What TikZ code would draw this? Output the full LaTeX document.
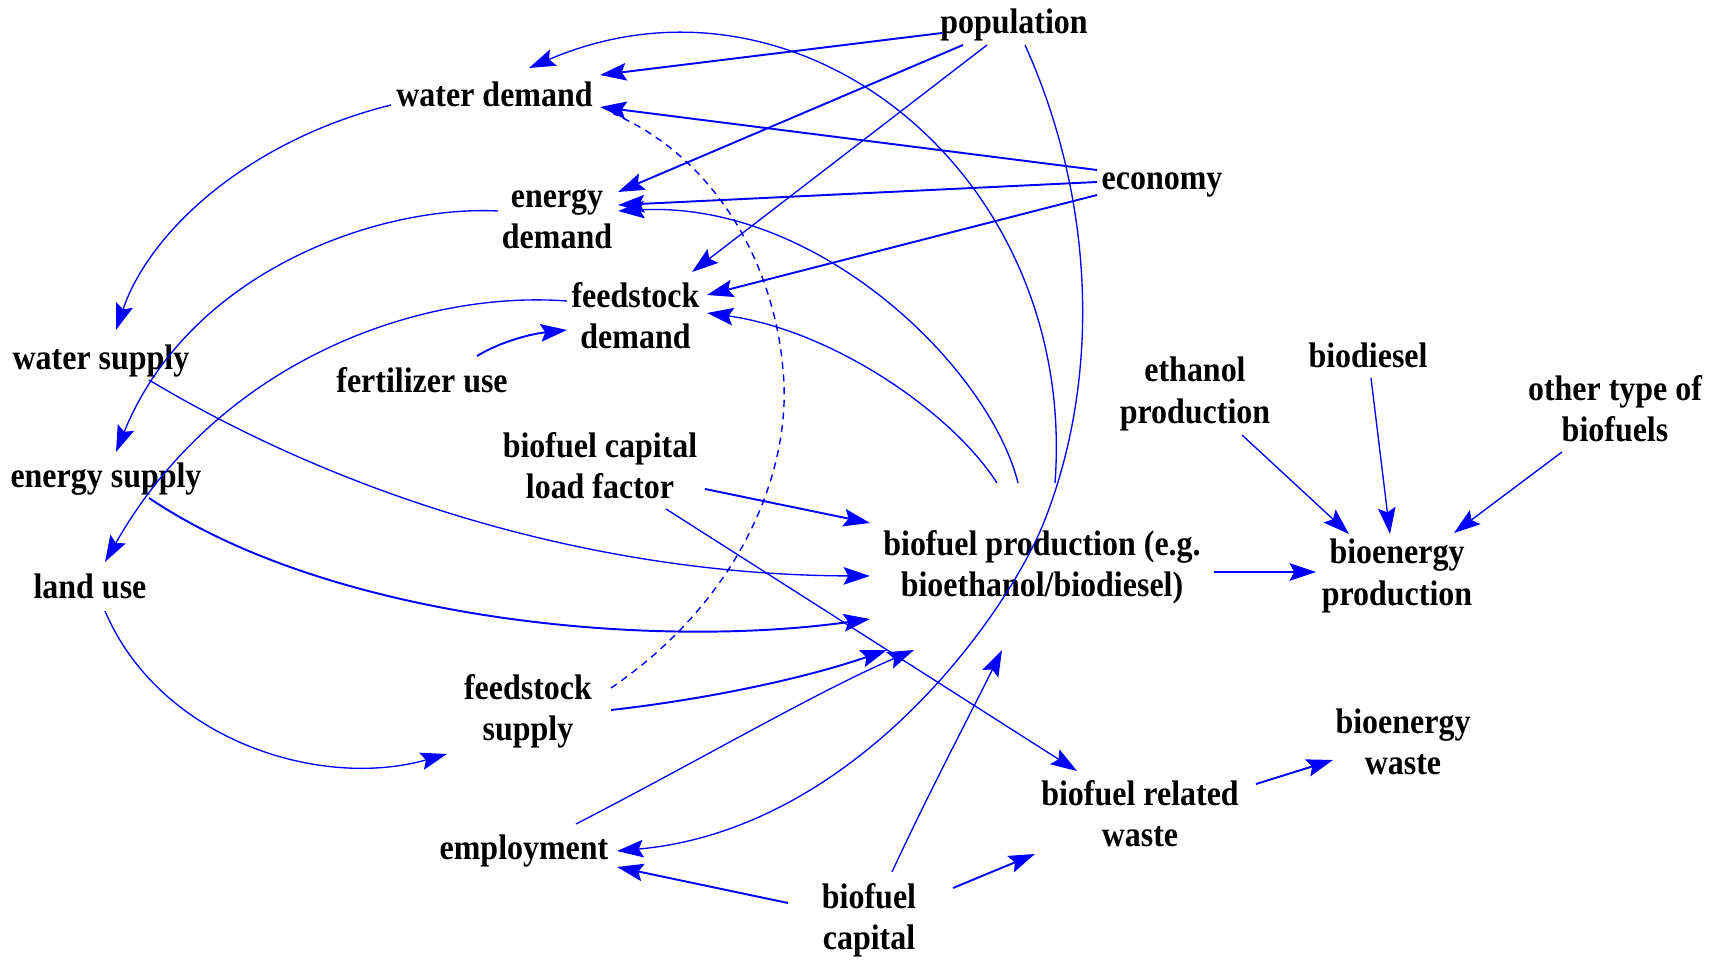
\documentclass[tikz,border=0pt]{standalone}
\usepackage{fontspec}
\setmainfont{Liberation Serif}[FakeStretch=0.9]
\usetikzlibrary{arrows.meta}
\definecolor{cblue}{RGB}{0,0,255}
\begin{document}
\begin{tikzpicture}[x=0.01cm,y=-0.01cm,
  lbl/.style={font=\fontsize{10.1}{11.7}\selectfont\bfseries, align=center, inner sep=0pt},
  link/.style={draw=cblue, line width=0.55pt, -{Stealth[length=7.5pt,width=5pt,inset=1.3pt]}},
  slim/.style={line width=0.38pt},
  dashlink/.style={draw=cblue, line width=0.4pt, dash pattern=on 2pt off 1.6pt}]
\useasboundingbox[fill=white] (0,0) rectangle (1727,961);

\node[lbl] (pop) at (1014,25) {population};
\node[lbl] (wd) at (494.5,94) {water demand};
\node[lbl] (eco) at (1162,185) {economy};
\node[lbl] (ed) at (557,219) {energy\\demand};
\node[lbl] (fd) at (635.5,316) {feedstock\\demand};
\node[lbl] (ws) at (101,361) {water supply};
\node[lbl] (fu) at (422,380) {fertilizer use};
\node[lbl] (eth) at (1195,394) {ethanol\\production};
\node[lbl] (bd) at (1368,355) {biodiesel};
\node[lbl] (oth) at (1615,409) {other type of\\biofuels};
\node[lbl] (lf) at (600,466) {biofuel capital\\load factor};
\node[lbl] (es) at (106,479) {energy supply};
\node[lbl] (bp) at (1042,567) {biofuel production (e.g.\\bioethanol/biodiesel)};
\node[lbl] (bep) at (1397,576) {bioenergy\\production};
\node[lbl] (lu) at (90,586) {land use};
\node[lbl] (fs) at (528,711.5) {feedstock\\supply};
\node[lbl] (bw) at (1403,742) {bioenergy\\waste};
\node[lbl] (brw) at (1140,814) {biofuel related\\waste};
\node[lbl] (emp) at (524,851) {employment};
\node[lbl] (bc) at (869,920) {biofuel\\capital};

% population
\draw[link] ([shift={(-72,8)}]pop.center) -- ([shift={(105.5,-19)}]wd.center);
\draw[link] ([shift={(-51,20)}]pop.center) -- ([shift={(61,-27)}]ed.center);
\draw[link,slim] ([shift={(-27,20)}]pop.center) -- ([shift={(56.5,-44)}]fd.center);
\draw[link,slim] ([shift={(11,20)}]pop.center) .. controls (1095,200) and (1102,380) .. (1042,527)
   .. controls (1000,625) and (850,830) .. ([shift={(93,0)}]emp.center);

% economy
\draw[link] ([shift={(-65,-15)}]eco.center) -- ([shift={(105.5,13)}]wd.center);
\draw[link] ([shift={(-65,-3)}]eco.center) -- ([shift={(61,-14)}]ed.center);
\draw[link] ([shift={(-65,10)}]eco.center) -- ([shift={(71.5,-21)}]fd.center);

% biofuel production feedbacks
\draw[link,slim] ([shift={(13,-84)}]bp.center) .. controls (1078,175) and (800,-48) .. ([shift={(34.5,-26)}]wd.center);
\draw[link,slim] ([shift={(-24,-84)}]bp.center) .. controls (990,370) and (820,200) .. ([shift={(61,-8)}]ed.center);
\draw[link,slim] ([shift={(-45,-84)}]bp.center) .. controls (950,410) and (830,330) .. ([shift={(71.5,-3)}]fd.center);

% dashed
\draw[dashlink] ([shift={(83,-23.5)}]fs.center) .. controls (740,600) and (793,470) .. (783,370)
   .. controls (775,270) and (720,160) .. ([shift={(118.5,19.5)}]wd.center);

% left side
\draw[link,slim] ([shift={(-103.5,11)}]wd.center) .. controls (250,140) and (150,230) .. ([shift={(15,-31)}]ws.center);
\draw[link,slim] ([shift={(-59,-8)}]ed.center) .. controls (380,205) and (190,270) .. ([shift={(10,-27)}]es.center);
\draw[link,slim] ([shift={(-68.5,-15)}]fd.center) .. controls (420,290) and (220,360) .. ([shift={(15,-24)}]lu.center);
\draw[link] ([shift={(55,-24)}]fu.center) .. controls (500,342) and (530,334) .. ([shift={(-68.5,14)}]fd.center);
\draw[link,slim] ([shift={(48,19)}]ws.center) .. controls (350,500) and (600,575) .. ([shift={(-172,9)}]bp.center);
\draw[link] ([shift={(43,19)}]es.center) .. controls (330,620) and (650,650) .. ([shift={(-172,52)}]bp.center);
\draw[link,slim] ([shift={(15,25)}]lu.center) .. controls (160,740) and (320,790) .. ([shift={(-81,42.5)}]fs.center);

% load factor
\draw[link] ([shift={(105,23)}]lf.center) -- ([shift={(-172,-44)}]bp.center);
\draw[link,slim] ([shift={(66,43)}]lf.center) -- ([shift={(-63,-43)}]brw.center);

% lower inputs
\draw[link] ([shift={(83,-1.5)}]fs.center) .. controls (700,700) and (800,680) .. ([shift={(-155,83)}]bp.center);
\draw[link,slim] ([shift={(52,-27)}]emp.center) .. controls (700,760) and (820,690) .. ([shift={(-128,83)}]bp.center);
\draw[link,slim] ([shift={(23,-48)}]bc.center) .. controls (930,790) and (975,705) .. ([shift={(-40,83)}]bp.center);
\draw[link] ([shift={(-81,-17)}]bc.center) -- ([shift={(93,16)}]emp.center);
\draw[link] ([shift={(84,-32)}]bc.center) -- ([shift={(-105,40)}]brw.center);
\draw[link] ([shift={(116,-30)}]brw.center) -- ([shift={(-70,18)}]bw.center);

% right side
\draw[link] ([shift={(172,5)}]bp.center) -- ([shift={(-81,-4)}]bep.center);
\draw[link,slim] ([shift={(47,41)}]eth.center) -- ([shift={(-48,-42)}]bep.center);
\draw[link,slim] ([shift={(3,23)}]bd.center) -- ([shift={(-7,-42)}]bep.center);
\draw[link,slim] ([shift={(-53,43)}]oth.center) -- ([shift={(57,-43)}]bep.center);
\end{tikzpicture}
\end{document}
